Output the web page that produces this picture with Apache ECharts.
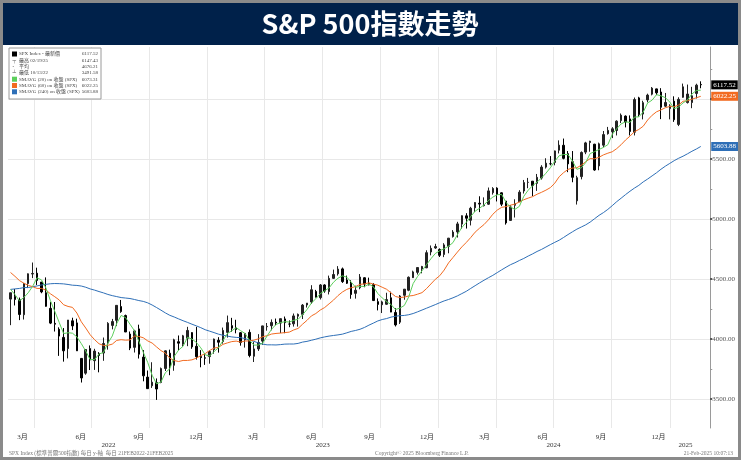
<!DOCTYPE html>
<html>
<head>
<meta charset="utf-8">
<script src="https://cdn.jsdelivr.net/npm/echarts@6/dist/echarts.min.js"></script>
<style>
html,body{margin:0;padding:0;background:#fff;}
#chart{width:741px;height:460px;}
</style>
</head>
<body>
<div id="chart"></div>
<script>
// ---------- DATA (weekly, mid-week dates) ----------
const weekDates = [
'2022-02-23','2022-03-02','2022-03-09','2022-03-16','2022-03-23','2022-03-30','2022-04-06','2022-04-13','2022-04-20','2022-04-27',
'2022-05-04','2022-05-11','2022-05-18','2022-05-25','2022-06-01','2022-06-08','2022-06-15','2022-06-22','2022-06-29','2022-07-06',
'2022-07-13','2022-07-20','2022-07-27','2022-08-03','2022-08-10','2022-08-17','2022-08-24','2022-08-31','2022-09-07','2022-09-14',
'2022-09-21','2022-09-28','2022-10-05','2022-10-12','2022-10-19','2022-10-26','2022-11-02','2022-11-09','2022-11-16','2022-11-23',
'2022-11-30','2022-12-07','2022-12-14','2022-12-21','2022-12-28',
'2023-01-04','2023-01-11','2023-01-18','2023-01-25','2023-02-01','2023-02-08','2023-02-15','2023-02-22','2023-03-01','2023-03-08',
'2023-03-15','2023-03-22','2023-03-29','2023-04-05','2023-04-12','2023-04-19','2023-04-26','2023-05-03','2023-05-10','2023-05-17',
'2023-05-24','2023-05-31','2023-06-07','2023-06-14','2023-06-21','2023-06-28','2023-07-05','2023-07-12','2023-07-19','2023-07-26',
'2023-08-02','2023-08-09','2023-08-16','2023-08-23','2023-08-30','2023-09-06','2023-09-13','2023-09-20','2023-09-27','2023-10-04',
'2023-10-11','2023-10-18','2023-10-25','2023-11-01','2023-11-08','2023-11-15','2023-11-22','2023-11-29','2023-12-06','2023-12-13',
'2023-12-20','2023-12-27',
'2024-01-03','2024-01-10','2024-01-17','2024-01-24','2024-01-31','2024-02-07','2024-02-14','2024-02-21','2024-02-28','2024-03-06',
'2024-03-13','2024-03-20','2024-03-27','2024-04-03','2024-04-10','2024-04-17','2024-04-24','2024-05-01','2024-05-08','2024-05-15',
'2024-05-22','2024-05-29','2024-06-05','2024-06-12','2024-06-19','2024-06-26','2024-07-03','2024-07-10','2024-07-17','2024-07-24',
'2024-07-31','2024-08-07','2024-08-14','2024-08-21','2024-08-28','2024-09-04','2024-09-11','2024-09-18','2024-09-25','2024-10-02',
'2024-10-09','2024-10-16','2024-10-23','2024-10-30','2024-11-06','2024-11-13','2024-11-20','2024-11-27','2024-12-04','2024-12-11',
'2024-12-18','2024-12-25',
'2025-01-01','2025-01-08','2025-01-15','2025-01-22','2025-01-29','2025-02-05','2025-02-12','2025-02-19'
];

const openVals = [
4332,4354,4327,4202,4462,4541,4548,4474,4385,4255,4130,4081,4013,3920,4151,4134,3838,3715,3920,3819,
3880,3883,3966,4113,4155,4270,4195,4041,3930,4084,3849,3682,3610,3636,3638,3754,3881,3781,3977,3956,
4006,4053,3939,3853,3843,
3853,3911,3989,3979,4055,4111,4092,4052,3993,4055,3856,3917,3982,4102,4110,4140,4132,4167,4124,4126,
4190,4205,4283,4308,4396,4344,4450,4395,4505,4543,4584,4492,4464,4380,4427,4510,4463,4453,4311,4285,
4289,4343,4221,4140,4364,4406,4511,4555,4584,4593,4725,4758,
4745,4704,4772,4853,4892,4957,5026,4989,5093,5131,5111,5123,5219,5257,5218,5149,4988,5114,5143,5233,
5305,5315,5297,5341,5432,5460,5471,5573,5614,5544,5477,5151,5353,5557,5637,5623,5442,5615,5711,5727,
5737,5820,5857,5834,5723,6009,5874,5992,6040,6084,6058,5940,5920,
5982,5788,6014,5970,5970,6046,6121
];
const highVals = [
4385,4416,4345,4465,4546,4637,4594,4474,4513,4308,4308,4097,4091,4158,4177,4169,3839,3913,3946,3918,
3890,4012,4140,4167,4280,4325,4203,4062,4076,4119,3907,3737,3806,3671,3762,3905,3911,4002,4029,4034,
4101,4056,4101,3907,3878,
3906,4003,4015,4095,4195,4176,4160,4058,4048,4079,3974,4040,4110,4133,4163,4170,4170,4187,4155,4212,
4212,4291,4299,4448,4409,4458,4456,4528,4578,4607,4595,4528,4490,4444,4541,4514,4511,4465,4338,4319,
4385,4394,4256,4366,4416,4521,4569,4595,4609,4739,4779,4793,
4755,4798,4842,4907,4976,5030,5048,5101,5140,5189,5180,5262,5265,5264,5222,5150,5114,5164,5240,5325,
5342,5316,5375,5448,5506,5524,5570,5655,5670,5566,5566,5360,5563,5643,5651,5626,5636,5733,5767,5765,
5822,5879,5863,5863,6012,6018,5985,6044,6099,6086,6090,6050,5956,
6022,6014,6128,6120,6101,6127,6147
];
const lowVals = [
4115,4279,4157,4162,4424,4507,4450,4381,4269,4124,4062,3859,3811,3838,4074,3900,3637,3702,3741,3742,
3722,3818,3911,4080,4107,4218,4058,3907,3887,3837,3647,3584,3592,3492,3631,3733,3698,3735,3906,3937,
3940,3918,3828,3764,3784,
3794,3877,3886,3961,4011,4060,4047,3944,3928,3847,3808,3900,3951,4069,4072,4114,4049,4048,4098,4103,
4103,4166,4262,4292,4346,4329,4385,4371,4500,4528,4467,4458,4335,4336,4414,4431,4447,4316,4238,4216,
4284,4223,4104,4125,4327,4398,4508,4537,4547,4590,4697,4751,
4683,4682,4714,4845,4845,4918,4920,4946,5057,5057,5104,5117,5203,5146,5107,4953,4984,5012,5142,5212,
5256,5191,5234,5328,5420,5447,5447,5546,5497,5390,5306,5120,5330,5540,5560,5402,5406,5597,5703,5674,
5696,5799,5763,5696,5696,5853,5830,5972,6030,6032,5832,5933,5830,
5809,5774,6010,5962,5923,6004,6089
];
const closeVals = [
4385,4329,4204,4463,4543,4546,4488,4392,4272,4132,4123,4024,3901,4158,4109,3901,3675,3912,3825,3899,
3863,3962,4130,4145,4280,4228,4058,3924,4067,3873,3693,3586,3640,3583,3753,3901,3771,3993,3965,4026,
4071,3934,3852,3845,3840,
3895,3999,3973,4071,4136,4090,4079,3970,4046,3862,3917,3971,4109,4105,4138,4133,4169,4136,4124,4192,
4205,4282,4299,4410,4348,4450,4399,4505,4537,4582,4478,4464,4370,4406,4516,4457,4450,4320,4288,4309,
4328,4224,4117,4358,4415,4514,4559,4595,4604,4719,4755,4770,
4697,4784,4840,4891,4959,5027,5006,5089,5137,5124,5117,5234,5254,5204,5123,4967,5100,5128,5223,5303,
5305,5278,5347,5432,5465,5460,5567,5615,5505,5459,5347,5344,5554,5634,5648,5408,5626,5703,5738,5751,
5815,5865,5808,5729,5995,5870,5969,6032,6090,6051,5931,5971,5942,
5827,5997,6101,6041,6026,6115,6118
];
// SMAVG(20) (green)
const sma20 = [
4413,4370,4317,4345,4385,4439,4510,4492,4425,4321,4230,4138,4045,4052,4048,4017,3961,3899,3828,3828,
3875,3887,3964,4025,4129,4196,4178,4123,4069,3981,3889,3805,3698,3626,3641,3719,3752,3855,3908,3939,
4014,3999,3971,3926,3868,
3858,3895,3927,3985,4045,4068,4094,4069,4046,3989,3949,3949,3965,4026,4081,4121,4136,4144,4141,4155,
4164,4201,4245,4299,4335,4377,4402,4426,4473,4506,4526,4515,4474,4430,4439,4437,4457,4436,4379,4342,
4311,4287,4245,4257,4279,4351,4462,4521,4568,4619,4668,4712,
4735,4752,4773,4803,4869,4929,4971,5020,5065,5089,5117,5153,5182,5202,5204,5137,5099,5080,5105,5189,
5240,5277,5308,5341,5381,5426,5481,5527,5537,5537,5482,5414,5426,5470,5545,5561,5579,5596,5619,5705,
5752,5792,5810,5804,5849,5851,5891,5967,5990,6036,6026,6011,5974,
5918,5934,5967,5992,6041,6071,6073
];
// SMAVG(60) (orange)
const sma60 = [
4554,4522,4487,4465,4447,4436,4421,4421,4407,4377,4352,4325,4285,4271,4263,4216,4143,4091,4035,3994,
3960,3946,3947,3957,3988,3994,3990,3992,4024,4021,4010,3984,3966,3934,3903,3882,3840,3820,3812,3821,
3821,3826,3840,3861,3878,
3904,3924,3930,3955,3967,3978,3982,3974,3983,3984,3990,4001,4019,4027,4041,4046,4049,4053,4057,4075,
4088,4123,4155,4192,4212,4241,4262,4293,4324,4361,4391,4413,4427,4437,4455,4459,4468,4457,4448,4431,
4414,4384,4354,4345,4349,4358,4362,4373,4386,4419,4458,4497,
4527,4574,4634,4679,4724,4767,4804,4845,4890,4923,4953,4992,5039,5074,5097,5103,5115,5124,5142,5160,
5174,5186,5206,5222,5240,5261,5298,5352,5386,5413,5424,5427,5448,5477,5503,5501,5514,5534,5548,5560,
5586,5619,5658,5690,5727,5746,5773,5825,5864,5893,5909,5927,5938,
5935,5950,5981,5985,5998,6010,6022
];
// SMAVG(240) (blue)
const sma240 = [
4413,4417,4421,4428,4429,4435,4442,4450,4455,4460,4462,4461,4459,4454,4448,4446,4441,4431,4417,4407,
4395,4384,4371,4361,4353,4345,4341,4337,4329,4320,4313,4301,4283,4262,4240,4217,4197,4183,4167,4152,
4138,4123,4109,4094,4077,4065,4053,
4040,4031,4024,4017,4013,4011,4003,3991,3980,3967,3957,3951,3951,3950,3953,3957,3958,3958,3963,3974,
3980,3989,3998,4009,4017,4024,4029,4034,4040,4051,4063,4071,4081,4096,4115,4132,4150,4162,4170,4182,
4189,4194,4196,4202,4212,4226,4241,4256,4271,4286,4302,4317,
4329,4343,4359,4378,4397,4421,4444,4467,4489,4510,4530,4553,4576,4598,4619,4635,4654,4671,4691,4709,
4729,4746,4766,4786,4805,4823,4846,4870,4893,4915,4933,4951,4974,5002,5030,5053,5080,5111,5144,5173,
5203,5231,5257,5280,5309,5333,5359,5385,5414,5440,5463,5486,5506,
5523,5543,5564,5583,5604
];

// axis labels / ticks
const monthLabelDates = ['2022-03-14','2022-06-14','2022-09-14','2022-12-14','2023-03-14','2023-06-14','2023-09-14','2023-12-14','2024-03-14','2024-06-14','2024-09-14','2024-12-14'];
const monthLabelText  = ['3月','6月','9月','12月','3月','6月','9月','12月','3月','6月','9月','12月'];
const yearLabelDates  = ['2022-07-28','2023-07-02','2024-07-01','2025-01-26'];
const yearLabelText   = ['2022','2023','2024','2025'];
const quarterGridDates = ['2022-04-01','2022-07-01','2022-10-01','2023-01-01','2023-04-01','2023-07-01','2023-10-01','2024-01-01','2024-04-01','2024-07-01','2024-10-01','2025-01-01'];
const yMajorTicks = [3500,4000,4500,5000,5500,6000];
const yLabelTicks = [3500,4000,4500,5000,5500];
const yMinorTicks = [3250,3750,4250,4750,5250,5750,6250];
const lastValues  = [6073.31,6022.25,5603.88,6117.52];   // green, orange, blue, price
const lastColors  = ['#5ccf5c','#f26b21','#2e6fb7','#000000'];

const legendLabels = ['SPX Index - 最新價','最高 02/19/25','平均','最低 10/13/22','SMAVG (20) on 收盤 (SPX)','SMAVG (60) on 收盤 (SPX)','SMAVG (240) on 收盤 (SPX)'];
const legendValues = ['6117.52','6147.43','4676.21','3491.58','6073.31','6022.25','5603.88'];

// ---------- CHART ----------
const FONT = '"Liberation Serif","Noto Sans CJK TC",serif';
const GREEN = '#5ccf5c', ORANGE = '#f26b21', BLUE = '#2e6fb7';
const T = s => Date.parse(s + 'T00:00:00Z');
const xMin = T('2022-02-19'), xMax = T('2025-03-06');
const yMin = 3258, yMax = 6433;

const chart = echarts.init(document.getElementById('chart'));

const candleData = weekDates.map((d, i) => [T(d), openVals[i], closeVals[i], lowVals[i], highVals[i]]);
const pair = arr => weekDates.map((d, i) => [T(d), arr[i]]);
const mLab = monthLabelDates.map(T), yLab = yearLabelDates.map(T), qGrid = quarterGridDates.map(T);
const near = (list, v) => list.findIndex(x => Math.abs(x - v) < 86400000);

const rich = {};
lastValues.forEach((v, i) => {
  rich['k' + i] = {backgroundColor: lastColors[i], color: '#fff', fontSize: 7, padding: [1, 2, 1, 2], fontFamily: FONT, lineHeight: 8};
});

const legendGroup = [];
legendGroup.push({type: 'rect', shape: {x: 9, y: 48, width: 92, height: 51}, style: {fill: '#fff', stroke: '#9a9a9a', lineWidth: 1}, z: 100});
const iconColors = ['#000', null, null, null, GREEN, ORANGE, BLUE];
const iconGlyph = ['', '┬', '-', '┴'];
legendLabels.forEach((t, i) => {
  const y = 54 + i * 6.3;
  if (iconColors[i]) {
    legendGroup.push({type: 'rect', shape: {x: 12, y: y - 2.5, width: 5, height: 5}, style: {fill: iconColors[i]}, z: 101});
  } else {
    legendGroup.push({type: 'text', x: 12.5, y: y, style: {text: iconGlyph[i], fill: '#555', font: '5px ' + FONT, verticalAlign: 'middle'}, z: 101});
  }
  legendGroup.push({type: 'text', x: 19, y: y, style: {text: t, fill: '#444', font: '5px ' + FONT, verticalAlign: 'middle'}, z: 101});
  legendGroup.push({type: 'text', x: 98, y: y, style: {text: legendValues[i], fill: '#444', font: '5px ' + FONT, verticalAlign: 'middle', align: 'right'}, z: 101});
});

const option = {
  animation: false,
  backgroundColor: '#fff',
  grid: {left: 8, right: 30, top: 47, bottom: 32},
  xAxis: [
    {
      type: 'value', min: xMin, max: xMax, position: 'bottom', scale: true,
      axisLine: {show: false},
      axisTick: {show: false, customValues: qGrid},
      splitLine: {show: true, lineStyle: {color: '#e8e8e8', width: 1}},
      axisLabel: {
        customValues: mLab,
        formatter: v => { const i = near(mLab, v); return i >= 0 ? monthLabelText[i] : ''; },
        fontSize: 7, color: '#333', margin: 6, fontFamily: FONT
      }
    },
    {
      type: 'value', min: xMin, max: xMax, position: 'bottom', offset: 10, scale: true,
      axisLine: {show: false}, axisTick: {show: false}, splitLine: {show: false},
      axisLabel: {
        customValues: yLab,
        formatter: v => { const i = near(yLab, v); return i >= 0 ? yearLabelText[i] : ''; },
        fontSize: 7, color: '#333', margin: 4, fontFamily: FONT
      }
    }
  ],
  yAxis: [
    {
      type: 'value', position: 'right', min: yMin, max: yMax,
      axisLine: {show: true, lineStyle: {color: '#9a9a9a', width: 1}},
      axisTick: {show: true, customValues: yMajorTicks, length: 2, lineStyle: {color: '#222', width: 1.5}},
      splitLine: {show: true, lineStyle: {color: '#e8e8e8', width: 1}},
      axisLabel: {customValues: yLabelTicks, formatter: v => Number(v).toFixed(2), fontSize: 7, color: '#555', margin: 2, fontFamily: FONT}
    },
    {
      type: 'value', position: 'right', min: yMin, max: yMax,
      axisLine: {show: false},
      axisTick: {show: true, customValues: yMinorTicks, length: 2, lineStyle: {color: '#999'}},
      splitLine: {show: false},
      axisLabel: {show: false}
    },
    {
      type: 'value', position: 'right', min: yMin, max: yMax,
      axisLine: {show: false}, axisTick: {show: false}, splitLine: {show: false},
      axisLabel: {
        customValues: lastValues, margin: 1,
        formatter: v => {
          const idx = lastValues.findIndex(x => Math.abs(x - v) < 0.01);
          return idx >= 0 ? '{k' + idx + '|' + lastValues[idx].toFixed(2) + '}' : '';
        },
        rich: rich
      }
    }
  ],
  series: [
    {
      type: 'candlestick', xAxisIndex: 0, yAxisIndex: 0, data: candleData, barWidth: 2,
      itemStyle: {color: '#222222', color0: '#000000', borderColor: '#222222', borderColor0: '#000000', borderWidth: 1},
      z: 2
    },
    {type: 'line', xAxisIndex: 0, yAxisIndex: 0, data: pair(sma240), showSymbol: false, symbol: 'none', lineStyle: {color: BLUE, width: 1}, z: 3},
    {type: 'line', xAxisIndex: 0, yAxisIndex: 0, data: pair(sma60), showSymbol: false, symbol: 'none', lineStyle: {color: ORANGE, width: 1}, z: 3},
    {type: 'line', xAxisIndex: 0, yAxisIndex: 0, data: pair(sma20), showSymbol: false, symbol: 'none', lineStyle: {color: GREEN, width: 1}, z: 4}
  ],
  graphic: [
    {type: 'rect', shape: {x: 3, y: 3, width: 735, height: 42}, style: {fill: '#00214a'}, z: 100},
    {type: 'text', x: 370, y: 24, style: {text: 'S&P 500指數走勢', fill: '#fff', font: 'bold 27px "Noto Sans CJK TC","Noto Sans",sans-serif', align: 'center', verticalAlign: 'middle'}, z: 101},
    {type: 'rect', shape: {x: 1.5, y: 1.5, width: 738, height: 457}, style: {fill: 'none', stroke: '#8a8a8a', lineWidth: 3}, z: 102},
    {type: 'text', x: 9, y: 451, style: {text: 'SPX Index (標準普爾500指數) 每日 y-軸  每日 21FEB2022-21FEB2025', fill: '#777', font: '5.5px ' + FONT}, z: 100},
    {type: 'text', x: 375, y: 451, style: {text: 'Copyright© 2025 Bloomberg Finance L.P.', fill: '#777', font: '5.5px ' + FONT}, z: 100},
    {type: 'text', x: 733, y: 451, style: {text: '21-Feb-2025 10:07:13', fill: '#777', font: '5.5px ' + FONT, align: 'right'}, z: 100},
    ...legendGroup
  ]
};
chart.setOption(option);
</script>
</body>
</html>
